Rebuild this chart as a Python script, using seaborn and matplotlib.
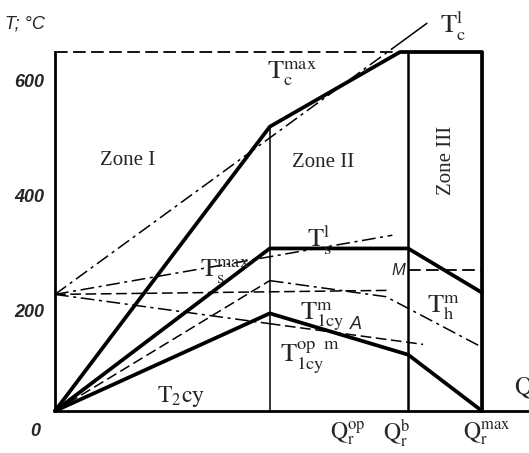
import matplotlib
matplotlib.use("Agg")
import matplotlib.pyplot as plt
import seaborn as sns

# Q axis is relative (Q_r^max = 1), T in deg C
q_op = 0.503
q_b = 0.827
q_max = 1.0

# heavy curves
tc_max_q = [0.0, 0.503, 0.808, 1.0, 1.0]
tc_max_t = [25, 520, 650, 650, 25]
ts_q = [0.0, 0.503, 0.827, 1.0]
ts_t = [25, 308, 308, 231]
t1cy_q = [0.0, 0.503, 0.827, 1.0]
t1cy_t = [25, 195, 123, 25]

# thin curves from the common point at 228
tcl_q = [0.0, 0.79, 0.871]
tcl_t = [228, 656, 700]
tsl_q = [0.0, 0.79]
tsl_t = [228, 331]
flat_q = [0.0, 0.78]
flat_t = [228, 235]
t1cym_q = [0.0, 0.503, 0.862]
t1cym_t = [228, 177, 141]

# dashed curve from the origin
thm_q = [0.0, 0.503, 0.775, 1.0]
thm_t = [25, 252, 224, 136]

# level M in zone III, top level
m_q = [0.827, 1.0]
m_t = [271, 271]
top_q = [0.0, 0.808]
top_t = [650, 650]

ytick_vals = [200, 400, 600]

sns.set_style("white")
plt.rcParams["mathtext.fontset"] = "stix"
plt.rcParams["font.family"] = ["Liberation Serif", "DejaVu Serif"]

fig = plt.figure(figsize=(5.29, 4.53), dpi=100)
ax = fig.add_axes([55 / 529, 42 / 453, 474 / 529, 359 / 453])


def draw(q, t, lw, ls="-"):
    sns.lineplot(x=q, y=t, ax=ax, color="black", linewidth=lw, linestyle=ls,
                 sort=False, estimator=None, legend=False, clip_on=False)


dash = (0, (7, 3))
dashdot = (0, (9, 3, 2, 3))

draw(tc_max_q, tc_max_t, 2.7)
draw(ts_q, ts_t, 2.7)
draw(t1cy_q, t1cy_t, 2.7)

draw(tcl_q[:2], tcl_t[:2], 1.1, dashdot)
draw(tcl_q[1:], tcl_t[1:], 1.1)
draw(tsl_q, tsl_t, 1.1, dashdot)
draw(flat_q, flat_t, 1.1, dash)
draw(t1cym_q[:2], t1cym_t[:2], 1.1, dashdot)
draw(t1cym_q[1:], t1cym_t[1:], 1.1, dash)
draw(thm_q[:2], thm_t[:2], 1.1, dash)
draw(thm_q[1:], thm_t[1:], 1.1, dashdot)
draw(m_q, m_t, 1.3, dash)
draw(top_q, top_t, 1.3, dash)

# zone borders
ax.axvline(q_op, ymax=(520 - 25) / (650 - 25), color="black", lw=1.1)
ax.axvline(q_b, color="black", lw=1.8)

ax.set_xlim(0, 1.11)
ax.set_ylim(25, 650)
for s in ["top", "right"]:
    ax.spines[s].set_visible(False)
for s in ["left", "bottom"]:
    ax.spines[s].set_linewidth(2)
    ax.spines[s].set_color("black")

ax.set_xticks([])
ax.set_yticks(ytick_vals)
ax.set_yticklabels([str(v) for v in ytick_vals], family="Liberation Sans",
                   fontweight="bold", style="italic", fontsize=13)
ax.tick_params(axis="y", direction="in", length=5, width=1.5, pad=8)
ax.set_xlabel("")
ax.set_ylabel("")

fig.text(5 / 529, 1 - 24 / 453, "T; °C", family="Liberation Sans", style="italic",
         fontsize=13, va="center")
fig.text(30 / 529, 1 - 432 / 453, "0", family="Liberation Sans", style="italic",
         fontweight="bold", fontsize=13, va="center")

lab = dict(fontsize=15, va="center", ha="left")
ax.text(0.105, 461, "Zone I", **lab)
ax.text(0.555, 457, "Zone II", **lab)
ax.text(0.916, 461, "Zone III", rotation=90, fontsize=15, va="center", ha="center")

ax.text(0.497, 614, r"$\mathrm{T}_\mathrm{c}^\mathrm{max}$", fontsize=19, va="center")
ax.text(0.902, 696, r"$\mathrm{T}_\mathrm{c}^\mathrm{l}$", fontsize=19, va="center", clip_on=False)
ax.text(0.34, 268, r"$\mathrm{T}_\mathrm{s}^\mathrm{max}$", fontsize=19, va="center")
ax.text(0.59, 322, r"$\mathrm{T}_\mathrm{s}^\mathrm{l}$", fontsize=19, va="center")
ax.text(0.574, 190, r"$\mathrm{T}_\mathrm{1cy}^\mathrm{m}$", fontsize=19, va="center")
ax.text(0.69, 176, "A", family="Liberation Sans", style="italic", fontsize=13, va="center")
ax.text(0.527, 120, r"$\mathrm{T}_\mathrm{1cy}^{\mathrm{op}\ \ \mathrm{m}}$", fontsize=19, va="center")
ax.text(0.871, 206, r"$\mathrm{T}_\mathrm{h}^\mathrm{m}$", fontsize=19, va="center")
ax.text(0.787, 270, "M", family="Liberation Sans", style="italic", fontsize=12, va="center")
ax.text(0.239, 50, r"$\mathrm{T}_\mathrm{2}\mathrm{cy}$", fontsize=17, va="center")

xl = dict(fontsize=17, ha="center", va="center", clip_on=False)
ax.text(0.686, -14, r"$\mathrm{Q}_\mathrm{r}^\mathrm{op}$", **xl)
ax.text(0.80, -14, r"$\mathrm{Q}_\mathrm{r}^\mathrm{b}$", **xl)
ax.text(1.01, -14, r"$\mathrm{Q}_\mathrm{r}^\mathrm{max}$", **xl)
# cut by the right edge, as in the original figure
ax.text(1.076, 64, r"$\mathrm{Q}_\mathrm{r}$", fontsize=18, ha="left", va="center", clip_on=False)

fig.savefig("out.png", dpi=100)
